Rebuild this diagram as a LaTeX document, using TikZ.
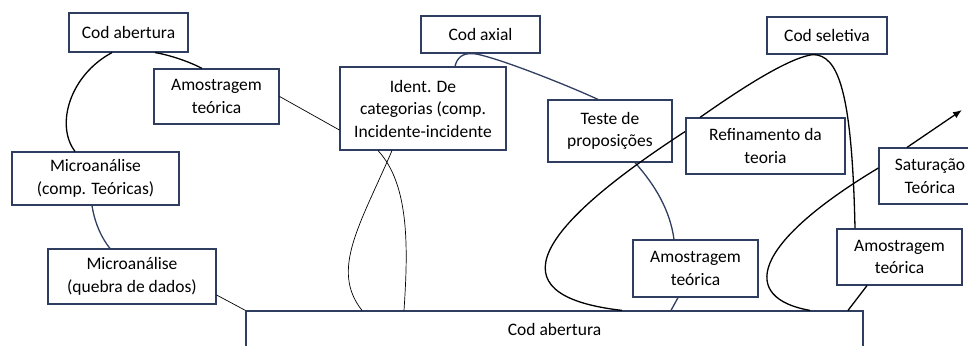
\documentclass[tikz,border=0pt]{standalone}
\usepackage{fontspec}
\setmainfont{Carlito}
\usetikzlibrary{calc,arrows.meta}
\definecolor{navy}{RGB}{47,62,96}
\begin{document}
\begin{tikzpicture}[x=1pt,y=-1pt,
  caixa/.style={draw=navy, line width=1.2pt, fill=white, align=center, inner sep=0pt,
    font=\fontsize{17.5}{22.5}\selectfont},
  liga/.style={line width=1.3pt},
  fina/.style={line width=0.7pt},
  azul/.style={draw=navy, line width=1.3pt}]
\useasboundingbox (0,0) rectangle (968,345);
\clip (0,0) rectangle (968,345);
\node[caixa, minimum width=119pt, minimum height=39pt] (cab1) at (128.5,32.5){Cod abertura};
\node[caixa, minimum width=125pt, minimum height=55pt] (amo1) at (216.5,96.5){Amostragem\\teórica};
\node[caixa, minimum width=167pt, minimum height=53pt] (mic1) at (95.5,178.5){Microanálise\\(comp. Teóricas)};
\node[caixa, minimum width=168pt, minimum height=55pt] (mic2) at (132,276.5){Microanálise\\(quebra de dados)};
\node[caixa, minimum width=617pt, minimum height=36pt] (cab2) at (554.5,329){Cod abertura};
\node[caixa, minimum width=119pt, minimum height=37pt] (axial) at (480.5,34.5){Cod axial};
\node[caixa, minimum width=166pt, minimum height=83pt] (ident) at (423,108.5){Ident. De\\categorias (comp.\\Incidente-incidente};
\node[caixa, minimum width=124pt, minimum height=62pt] (teste) at (610,131){Teste de\\proposições};
\node[caixa, minimum width=120pt, minimum height=37pt] (sel) at (827,35.5){Cod seletiva};
\node[caixa, minimum width=102pt, minimum height=56pt] (satur) at (930,176){Saturação\\Teórica};
\node[caixa, minimum width=125pt, minimum height=56pt] (amo3) at (899.5,257){Amostragem\\teórica};
\node[caixa, minimum width=125pt, minimum height=57pt] (amo2) at (695.5,268.5){Amostragem\\teórica};
\coordinate (fim) at (962,110);
% codificacao aberta
\draw[liga] ($(cab1.south)+(-16.5,0)$) .. controls (70,75) and (55,125) .. ($(mic1.north)+(-20.5,0)$);
\draw[liga] ($(cab1.south)+(26.5,0)$) .. controls (170,55) and (190,62) .. ($(amo1.north)+(-14.5,0)$);
\draw[fina] (amo1.east) -- ($(ident.west)+(0,21.5)$);
\draw[azul] ($(mic1.south)+(-3.5,0)$) .. controls (95,225) and (103,240) .. ($(mic2.north)+(-22,0)$);
\draw[fina] ($(mic2.east)+(0,18.5)$) -- (cab2.north west);
% codificacao axial
\draw[azul] ($(ident.north)+(32,0)$) .. controls (457,58) and (462,53) .. ($(axial.south)+(-7.5,0)$);
\draw[azul] ($(axial.south)+(-7.5,0)$) .. controls (490,55) and (560,82) .. ($(teste.north)+(-12,0)$);
\draw[fina] ($(ident.south)+(-31,0)$) .. controls (360,225) and (330,270) .. ($(cab2.north)+(-192.5,0)$);
\draw[fina] ($(ident.south)+(-45,0)$) .. controls (410,185) and (408,250) .. ($(cab2.north)+(-150.5,0)$);
\draw[azul] ($(teste.south)+(25,0)$) .. controls (655,185) and (670,210) .. ($(amo2.north)+(-21.5,0)$);
\draw[azul] ($(amo2.south)+(-17.5,0)$) -- ($(cab2.north)+(116.5,0)$);
% codificacao seletiva
\draw[liga] ($(cab2.north)+(67.5,0)$) .. controls (505,297) and (518,240) .. ($(teste.south east)+(14,-32)$);
\node[caixa, minimum width=159pt, minimum height=56pt] (refin) at (765.5,146){Refinamento da\\teoria};
\draw[liga] ($(refin.north)+(-65.5,0)$) .. controls (725,100) and (785,58) .. ($(sel.south)+(-14,0)$);
\draw[liga] ($(sel.south)+(-14,0)$) .. controls (838,55) and (852,90) .. ($(amo3.north)+(-44.5,0)$);
\draw[liga] ($(cab2.north)+(255.5,0)$) .. controls (740,298) and (750,245) .. ($(satur.west)+(0,-8)$);
\draw[liga, -{Latex[length=9pt,width=7pt]}] ($(satur.north)+(-23,0)$) -- (fim);
\draw[liga] ($(amo3.south)+(-32.5,0)$) -- ($(cab2.north)+(293.5,0)$);
\end{tikzpicture}
\end{document}
